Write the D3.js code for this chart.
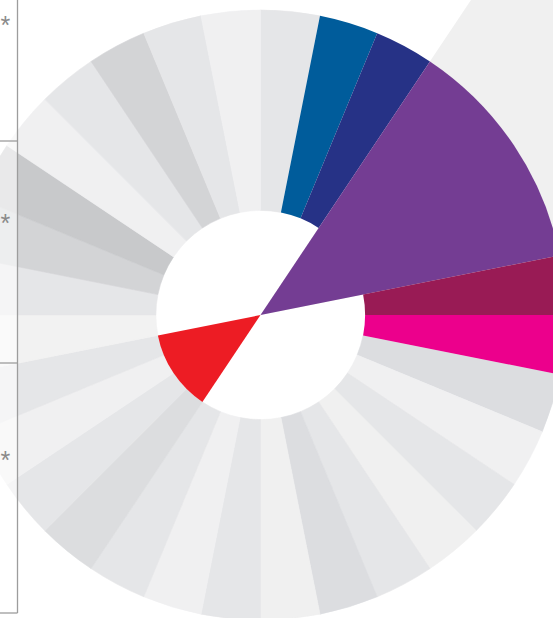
<!DOCTYPE html>
<html>
<head>
<meta charset="utf-8">
<script src="https://cdn.jsdelivr.net/npm/d3@7"></script>
<style>
  html, body { margin: 0; padding: 0; background: #ffffff; }
  svg { display: block; }
</style>
</head>
<body>
<svg id="chart" width="553" height="618"></svg>
<script>
// 32 equal sectors around the circle, numbered clockwise from 12 o'clock
const sectors = d3.range(32);

// grey ring: inner and outer value of every sector
const ringInner = [34.3, 34.3, 34.3, 34.3, 34.3, 34.3, 34.3, 34.3, 34.3, 34.3, 34.3, 34.3, 34.3, 34.3, 34.3, 34.3,
                   34.3, 34.3, 34.3, 34.3, 34.3, 34.3, 34.3, 34.3, 34.3, 34.3, 34.3, 34.3, 34.3, 34.3, 34.3, 34.3];
const ringOuter = [100, 100, 100, 100, 100, 100, 100, 100, 100, 100, 100, 100, 100, 100, 100, 100,
                   100, 100, 100, 100, 100, 100, 100, 100, 100, 100, 100, 100, 100, 100, 100, 100];

// highlighted segments: first sector, number of sectors, inner and outer value
const highlightNames = ["blue", "navy", "purple", "plum", "magenta", "red"];
const highlightStart = [1, 2, 3, 7, 8, 19];
const highlightSpan  = [1, 1, 4, 1, 1, 4];
const highlightInner = [34.3, 34.3, 0, 34.3, 34.3, 0];
const highlightOuter = [100, 100, 100, 100, 100, 34.3];

// pale halo behind the purple segment
const haloStart = 3, haloSpan = 4, haloOuter = 160;

// legend rows on the left edge
const legendRows = ["*", "*", "*"];

// ---- styles ----
const ringShades = ["#e5e6e8", "#e5e6e8", "#e5e6e8", "#f0f0f0", "#f0f0f0", "#f0f0f0", "#f0f0f0", "#e5e6e8",
                    "#e5e6e8", "#dcdde0", "#f0f0f1", "#e5e6e8", "#f0f0f0", "#e5e6e8", "#dcdde0", "#f0f0f0",
                    "#e5e6e8", "#f0f0f1", "#e5e6e8", "#dcdddf", "#e5e6e8", "#f0f0f1", "#e5e6e8", "#f2f2f2",
                    "#e5e6e8", "#d3d4d6", "#c8c9cb", "#f0f0f1", "#e5e6e8", "#d3d4d6", "#e5e6e8", "#f0f0f1"];
const highlightColors = ["#005c9b", "#263286", "#743d93", "#991b55", "#ec008c", "#ed1c24"];

const svg = d3.select("#chart");
const cx = 260.5, cy = 315;

const angle = d3.scaleBand().domain(sectors).range([0, 2 * Math.PI]).padding(0);
const radius = d3.scaleLinear().domain([0, 100]).range([0, 305]);

const arc = d3.arc()
  .innerRadius(d => radius(d.inner))
  .outerRadius(d => radius(d.outer))
  .startAngle(d => angle(d.start))
  .endAngle(d => angle(d.start) + angle.bandwidth() * d.span);

const g = svg.append("g").attr("transform", `translate(${cx},${cy})`);

// halo
g.append("path")
  .attr("d", arc({ start: haloStart, span: haloSpan, inner: 0, outer: haloOuter }))
  .attr("fill", "#f0f0f0");

// grey ring (sectors under the coloured ring segments are skipped)
const covered = new Set();
highlightStart.forEach((s, i) => {
  if (highlightInner[i] > 0) for (let k = 0; k < highlightSpan[i]; k++) covered.add(s + k);
});
const ringData = sectors.filter(k => !covered.has(k))
  .map(k => ({ start: k, span: 1, inner: ringInner[k], outer: ringOuter[k], shade: ringShades[k] }));

g.selectAll("path.ring").data(ringData).join("path")
  .attr("class", "ring")
  .attr("d", arc)
  .attr("fill", d => d.shade)
  .attr("stroke", d => d.shade)
  .attr("stroke-width", 0.6);

// coloured segments
const highlightData = highlightNames.map((name, i) => ({
  name, start: highlightStart[i], span: highlightSpan[i],
  inner: highlightInner[i], outer: highlightOuter[i], color: highlightColors[i]
}));

g.selectAll("path.highlight").data(highlightData).join("path")
  .attr("class", "highlight")
  .attr("d", arc)
  .attr("fill", d => d.color);

// legend panel on the left edge
const legend = svg.append("g");
const panelW = 17.5;
const rowEdges = [0, 141, 363, 613];
legend.append("rect")
  .attr("x", 0).attr("y", 0).attr("width", panelW).attr("height", rowEdges[3])
  .attr("fill", "#ffffff").attr("fill-opacity", 0.6);
legend.append("line")
  .attr("x1", panelW).attr("x2", panelW).attr("y1", 0).attr("y2", rowEdges[3])
  .attr("stroke", "#9d9d9d").attr("stroke-width", 1.3);
legend.selectAll("line.row").data(rowEdges.slice(1)).join("line")
  .attr("class", "row")
  .attr("x1", 0).attr("x2", panelW).attr("y1", d => d).attr("y2", d => d)
  .attr("stroke", "#9d9d9d").attr("stroke-width", 1.3);

const starY = [20, 218, 455];
const fs = 25;
legend.selectAll("text").data(legendRows).join("text")
  .attr("x", 0.5)
  .attr("y", (d, i) => starY[i] + 0.575 * fs)
  .attr("text-anchor", "start")
  .attr("font-family", "Liberation Sans, Arial, sans-serif")
  .attr("font-size", fs)
  .attr("fill", "#8a8a8a")
  .text(d => d);
</script>
</body>
</html>
